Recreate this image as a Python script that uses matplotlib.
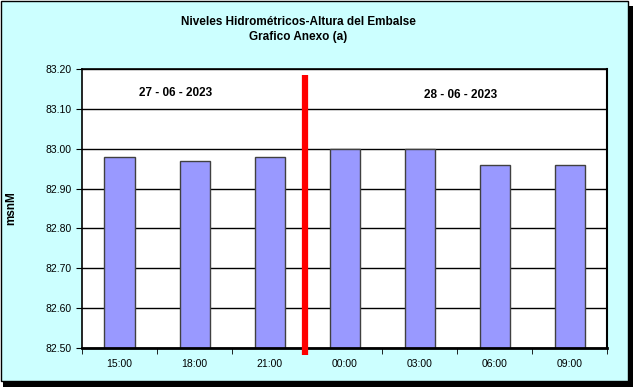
import matplotlib
matplotlib.use('Agg')
import matplotlib.pyplot as plt
import numpy as np
from matplotlib.patches import Rectangle

plt.rcParams['font.family'] = ['Liberation Sans', 'DejaVu Sans']

horas = ['15:00', '18:00', '21:00', '00:00', '03:00', '06:00', '09:00']
niveles = [82.98, 82.97, 82.98, 83.00, 83.00, 82.96, 82.96]
fechas = ['27 - 06 - 2023', '28 - 06 - 2023']

W, H = 633, 387
fig = plt.figure(figsize=(W / 100, H / 100), dpi=100)
fig.patch.set_facecolor('white')

# marco del gráfico con sombra
fig.patches.append(Rectangle((3 / W, 0), (W - 3) / W, (H - 6) / H, transform=fig.transFigure,
                             facecolor='black', edgecolor='none', zorder=-2))
fig.patches.append(Rectangle((0.5 / W, 6 / H), (W - 6) / W, (H - 6.5) / H, transform=fig.transFigure,
                             facecolor='#CCFFFF', edgecolor='black', linewidth=1, zorder=-1))

ax = fig.add_axes([82 / W, 1 - 348 / H, (607 - 82) / W, (348 - 69) / H])
ax.set_zorder(2)
ax.set_facecolor('white')
x = np.arange(len(horas))
ax.bar(x, niveles, width=0.4, color='#9999FF', edgecolor='#404040', linewidth=1, zorder=3)
ax.set_xlim(-0.5, len(horas) - 0.5)
ax.set_ylim(82.5, 83.2)
ax.set_yticks(np.arange(82.5, 83.21, 0.1))
ax.set_yticklabels([f'{v:.2f}' for v in np.arange(82.5, 83.21, 0.1)], fontsize=7.5)
ax.yaxis.grid(True, color='black', linewidth=1, zorder=0)
ax.set_xticks(x)
ax.set_xticklabels(horas, fontsize=7.5)
ax.tick_params(axis='x', length=0, pad=8)
ax.set_xticks(np.arange(-0.5, len(horas)), minor=True)
ax.tick_params(axis='x', which='minor', length=4, direction='out')
ax.tick_params(axis='y', length=4, direction='out')
for s in ax.spines.values():
    s.set_linewidth(1.2)
    s.set_zorder(5)
ax.spines['bottom'].set_linewidth(2)
ax.spines['right'].set_linewidth(1.5)

# separador de días
ax.plot([2.47, 2.47], [83.185, 82.482], color='red', linewidth=4.5, clip_on=False, zorder=6,
        solid_capstyle='butt')

ax.text(0.75, 83.14, fechas[0], ha='center', va='center', fontsize=8.5, fontweight='bold')
ax.text(4.55, 83.135, fechas[1], ha='center', va='center', fontsize=8.5, fontweight='bold')

ax.set_ylabel('msnM', fontsize=8.5, fontweight='bold', labelpad=20)

fig.text(298 / W, 1 - 22 / H, 'Niveles Hidrométricos-Altura del Embalse', ha='center', va='center',
         fontsize=8.5, fontweight='bold')
fig.text(298 / W, 1 - 37 / H, 'Grafico Anexo (a)', ha='center', va='center',
         fontsize=8.5, fontweight='bold')

fig.savefig('out.png', dpi=100)
